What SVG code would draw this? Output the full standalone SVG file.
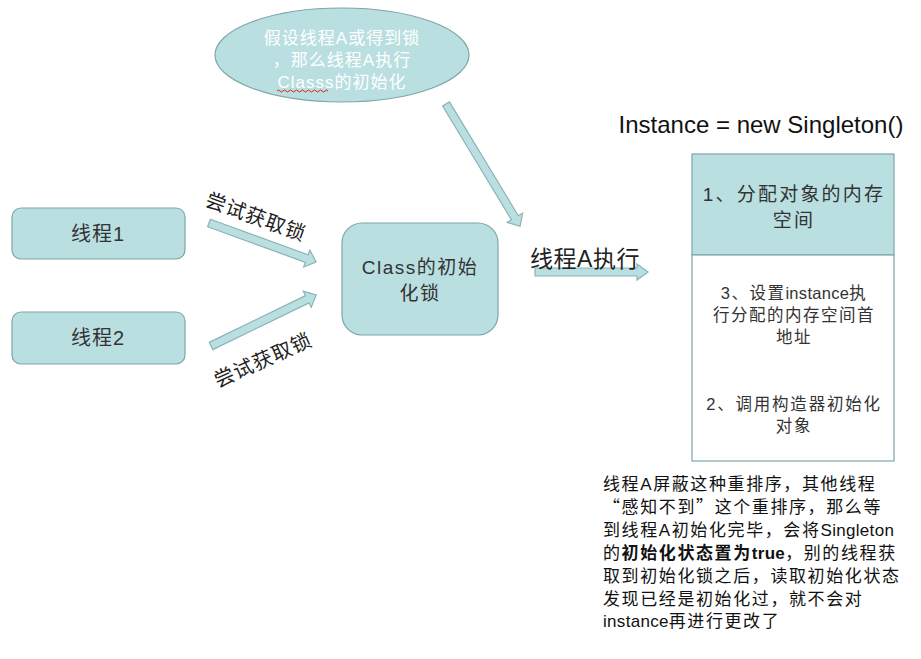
<svg xmlns="http://www.w3.org/2000/svg" width="921" height="659" viewBox="0 0 921 659">
<defs>
<style>
.nd{fill:#b9dfe1;stroke:#7fa5a8;stroke-width:1.2}
.ar{fill:#b9dfe1;stroke:#8ab3b6;stroke-width:1.2}
.t{font-family:"Liberation Sans","Noto Sans CJK SC",sans-serif;fill:#333;text-anchor:middle}
.w{font-family:"Liberation Sans","Noto Sans CJK SC",sans-serif;fill:#fff;text-anchor:middle;font-size:17px;letter-spacing:1px}
.lb{font-family:"Liberation Serif","Noto Sans CJK SC",serif;fill:#222;text-anchor:middle;font-size:20px;letter-spacing:1px}
.b{font-family:"Liberation Sans","Noto Sans CJK SC",sans-serif;fill:#111;font-size:17px;letter-spacing:1.6px}
.cq{font-family:"Noto Sans CJK SC",sans-serif}
.la{letter-spacing:0.3px}
</style>
</defs>
<rect width="921" height="659" fill="#fff"/>
<g id="note-ellipse">
<ellipse class="nd" cx="342" cy="55" rx="127" ry="47"/>
<text class="w" x="342" y="44">假设线程A或得到锁</text>
<text class="w" x="342" y="66">，那么线程A执行</text>
<text class="w" x="342" y="88">Classs的初始化</text>
<path d="M277 91 q1.5 -2 3 0 t3 0 t3 0 t3 0 t3 0 t3 0 t3 0 t3 0 t3 0 t3 0 t3 0 t3 0 t3 0 t3 0 t3 0 t3 0 t3 0" fill="none" stroke="#e02020" stroke-width="1"/>
</g>
<g id="thread1">
<rect class="nd" x="12" y="208" width="173" height="51" rx="9"/>
<text class="t" x="98" y="241" font-size="20" letter-spacing="1">线程1</text>
</g>
<g id="thread2">
<rect class="nd" x="12" y="312" width="173" height="52" rx="9"/>
<text class="t" x="98" y="345" font-size="20" letter-spacing="1">线程2</text>
</g>
<g id="class-lock">
<rect class="nd" x="342" y="223" width="156" height="112" rx="20"/>
<text class="t" x="420" y="274" font-size="19" letter-spacing="1.5">Class的初始</text>
<text class="t" x="420" y="300" font-size="19" letter-spacing="1.5">化锁</text>
</g>
<g id="title">
<text class="t" x="761" y="133" font-size="24" style="fill:#111">Instance = new Singleton()</text>
</g>
<g id="steps">
<rect x="692" y="154" width="202" height="101" fill="#b9dfe1" stroke="#7fa5a8" stroke-width="1.2"/>
<rect x="692" y="255" width="202" height="206" fill="#fff" stroke="#7fa5a8" stroke-width="1.2"/>
<text class="t" x="794" y="201" font-size="19" letter-spacing="2.2">1、分配对象的内存</text>
<text class="t" x="794" y="227" font-size="19" letter-spacing="2.2">空间</text>
<text class="t" x="794" y="299" font-size="16.5" letter-spacing="1.5">3、设置<tspan class="la">instance</tspan>执</text>
<text class="t" x="794" y="321" font-size="16.5" letter-spacing="1.5">行分配的内存空间首</text>
<text class="t" x="794" y="343" font-size="16.5" letter-spacing="1.5">地址</text>
<text class="t" x="794" y="410" font-size="16.5" letter-spacing="1.8">2、调用构造器初始化</text>
<text class="t" x="794" y="432" font-size="16.5" letter-spacing="1.8">对象</text>
</g>
<g id="connectors">
<polygon class="ar" transform="translate(209,223) rotate(20)" points="0,-4 104,-4 104,-9 114,0 104,9 104,4 0,4"/>
<polygon class="ar" transform="translate(211,346) rotate(-25.9)" points="0,-4 107,-4 107,-9 117,0 107,9 107,4 0,4"/>
<polygon class="ar" transform="translate(446,104) rotate(58.8)" points="0,-4 133,-4 133,-9 143,0 133,9 133,4 0,4"/>
<polygon class="ar" transform="translate(535,272)" points="0,-4 102,-4 102,-8 113,0 102,8 102,4 0,4"/>
<text class="lb" transform="translate(256,217) rotate(20)" x="0" y="7">尝试获取锁</text>
<text class="lb" transform="translate(263,360) rotate(-24)" x="0" y="7">尝试获取锁</text>
<text class="t" x="585" y="267" font-size="23" letter-spacing="0.5" style="fill:#222">线程A执行</text>
</g>
<g id="explanation">
<text class="b" x="603" y="490">线程A屏蔽这种重排序，其他线程</text>
<text class="b" x="603" y="513"><tspan class="cq">“</tspan>感知不到<tspan class="cq">”</tspan>这个重排序，那么等</text>
<text class="b" x="603" y="536">到线程A初始化完毕，会将<tspan class="la">Singleton</tspan></text>
<text class="b" x="603" y="559">的<tspan font-weight="bold">初始化状态置为<tspan class="la">true</tspan></tspan>，别的线程获</text>
<text class="b" x="603" y="582">取到初始化锁之后，读取初始化状态</text>
<text class="b" x="603" y="605">发现已经是初始化过，就不会对</text>
<text class="b" x="603" y="627"><tspan class="la">instance</tspan>再进行更改了</text>
</g>
</svg>
